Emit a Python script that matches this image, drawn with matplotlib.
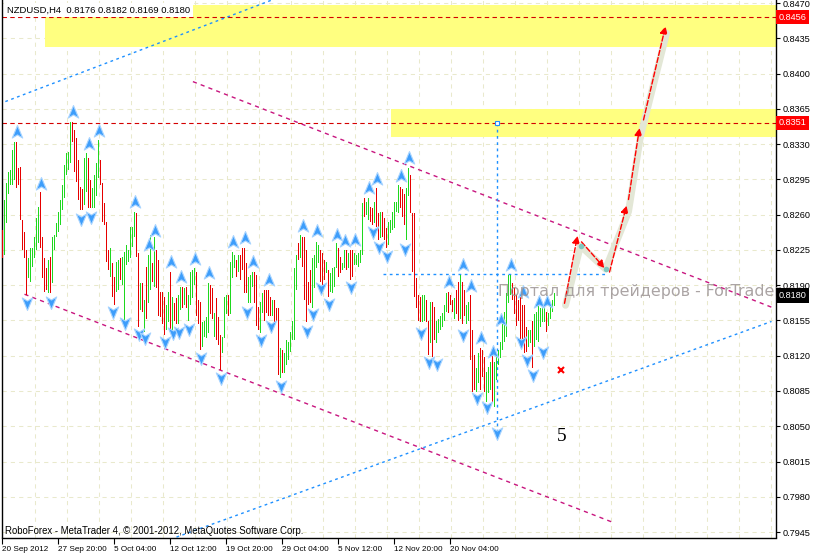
import numpy as np
import matplotlib.pyplot as plt
from matplotlib.path import Path
import matplotlib.transforms as mtransforms

# NZDUSD H4 bars (high, low, up=1 / down=0)
high = [0.8245,0.8275,0.8291,0.8302,0.8304,0.8324,0.8332,0.8332,0.8306,0.8307,
        0.8255,0.8243,0.8225,0.8217,0.8227,0.8227,0.8238,0.8257,0.8268,0.8282,
        0.8238,0.8217,0.8207,0.8215,0.8218,0.8238,0.8240,0.8252,0.8263,0.8275,
        0.8289,0.8309,0.8321,0.8322,0.8352,0.8352,0.8344,0.8336,0.8314,0.8287,
        0.8285,0.8316,0.8321,0.8316,0.8294,0.8286,0.8299,0.8311,0.8334,0.8314,
        0.8291,0.8272,0.8253,0.8225,0.8227,0.8212,
        0.8198,0.8213,0.8215,0.8217,0.8218,0.8223,0.8230,0.8225,0.8248,0.8248,
        0.8263,0.8262,0.8222,0.8192,0.8192,0.8175,0.8208,0.8220,0.8240,0.8212,
        0.8238,0.8225,0.8215,0.8183,0.8183,0.8178,0.8170,0.8183,0.8203,0.8178,
        0.8172,0.8177,0.8180,0.8188,0.8188,0.8187,0.8188,0.8180,0.8203,0.8205,
        0.8207,0.8203,0.8175,0.8173,0.8153,0.8154,0.8158,0.8192,0.8190,0.8187,
        0.8162,0.8177,0.8158,0.8141,0.8139,
        0.8178,0.8180,0.8180,0.8213,0.8223,0.8220,0.8215,0.8220,0.8220,0.8227,
        0.8227,0.8212,0.8198,0.8200,0.8203,0.8203,0.8200,0.8168,0.8173,0.8182,
        0.8185,0.8185,0.8185,0.8178,0.8175,0.8175,0.8167,0.8167,0.8128,0.8126,
        0.8123,0.8136,0.8134,0.8144,0.8154,0.8207,0.8220,0.8232,0.8240,0.8238,
        0.8238,0.8225,0.8193,0.8205,0.8217,0.8220,0.8233,0.8230,0.8225,0.8222,
        0.8215,0.8213,0.8205,0.8202,0.8207,
        0.8208,0.8232,0.8227,0.8218,0.8212,0.8225,0.8225,0.8222,0.8225,0.8225,
        0.8222,0.8220,0.8222,0.8225,0.8272,0.8277,0.8273,0.8277,0.8268,0.8267,
        0.8273,0.8286,0.8262,0.8263,0.8263,0.8257,0.8247,0.8253,0.8255,0.8263,
        0.8273,0.8273,0.8289,0.8287,0.8285,0.8280,0.8286,0.8306,0.8299,0.8262,
        0.8262,0.8197,0.8180,0.8178,0.8180,0.8180,0.8175,0.8154,0.8173,0.8173,
        0.8168,0.8154,0.8156,0.8159,0.8162,
        0.8170,0.8182,0.8183,0.8180,0.8175,0.8177,0.8185,0.8193,0.8200,0.8193,
        0.8185,0.8170,0.8173,0.8180,0.8146,0.8121,0.8108,0.8123,0.8128,0.8126,
        0.8119,0.8104,0.8109,0.8114,0.8121,0.8114,0.8121,0.8126,0.8134,0.8151,
        0.8163,0.8182,0.8200,0.8200,0.8192,0.8187,0.8180,0.8175,0.8178,0.8170,
        0.8170,0.8148,0.8146,0.8146,0.8154,0.8161,0.8163,0.8170,0.8167,0.8170,
        0.8173,0.8163,0.8162,0.8170,0.8175,0.8182]
low = [0.8217,0.8220,0.8252,0.8280,0.8289,0.8289,0.8294,0.8286,0.8289,0.8255,
       0.8225,0.8217,0.8180,0.8197,0.8193,0.8208,0.8217,0.8225,0.8232,0.8227,
       0.8197,0.8183,0.8185,0.8182,0.8182,0.8192,0.8225,0.8238,0.8243,0.8250,
       0.8265,0.8277,0.8299,0.8304,0.8311,0.8332,0.8302,0.8292,0.8275,0.8265,
       0.8265,0.8270,0.8282,0.8267,0.8267,0.8267,0.8267,0.8278,0.8296,0.8289,
       0.8253,0.8250,0.8213,0.8205,0.8198,0.8178,
       0.8170,0.8183,0.8185,0.8195,0.8190,0.8154,0.8210,0.8213,0.8217,0.8228,
       0.8238,0.8218,0.8148,0.8165,0.8163,0.8144,0.8156,0.8172,0.8185,0.8193,
       0.8188,0.8187,0.8159,0.8158,0.8151,0.8141,0.8146,0.8153,0.8144,0.8143,
       0.8154,0.8151,0.8151,0.8165,0.8167,0.8170,0.8167,0.8154,0.8170,0.8177,
       0.8190,0.8159,0.8151,0.8126,0.8129,0.8139,0.8138,0.8143,0.8161,0.8156,
       0.8139,0.8136,0.8131,0.8106,0.8123,
       0.8138,0.8161,0.8159,0.8161,0.8197,0.8207,0.8198,0.8203,0.8195,0.8205,
       0.8182,0.8182,0.8172,0.8172,0.8188,0.8172,0.8149,0.8146,0.8143,0.8162,
       0.8154,0.8162,0.8159,0.8159,0.8159,0.8153,0.8153,0.8101,0.8098,0.8103,
       0.8103,0.8111,0.8116,0.8124,0.8136,0.8136,0.8185,0.8215,0.8217,0.8208,
       0.8175,0.8153,0.8170,0.8172,0.8167,0.8187,0.8207,0.8212,0.8193,0.8183,
       0.8195,0.8202,0.8178,0.8183,0.8182,
       0.8188,0.8207,0.8198,0.8202,0.8205,0.8207,0.8205,0.8207,0.8195,0.8198,
       0.8210,0.8210,0.8208,0.8212,0.8220,0.8258,0.8260,0.8255,0.8253,0.8250,
       0.8252,0.8248,0.8235,0.8237,0.8238,0.8235,0.8227,0.8230,0.8242,0.8245,
       0.8247,0.8263,0.8262,0.8267,0.8258,0.8250,0.8235,0.8278,0.8262,0.8203,
       0.8178,0.8167,0.8154,0.8153,0.8153,0.8154,0.8153,0.8121,0.8133,0.8119,
       0.8136,0.8133,0.8143,0.8146,0.8148,
       0.8154,0.8163,0.8162,0.8170,0.8163,0.8156,0.8161,0.8154,0.8156,0.8151,
       0.8159,0.8151,0.8154,0.8116,0.8084,0.8086,0.8084,0.8093,0.8086,0.8099,
       0.8084,0.8074,0.8083,0.8086,0.8073,0.8069,0.8096,0.8111,0.8118,0.8126,
       0.8134,0.8139,0.8172,0.8180,0.8175,0.8161,0.8149,0.8154,0.8134,0.8129,
       0.8123,0.8124,0.8129,0.8133,0.8108,0.8129,0.8136,0.8134,0.8148,0.8153,
       0.8153,0.8144,0.8149,0.8156,0.8163,0.8169]
up = [0,1,1,1,1,1,1,0,0,0, 0,0,0,1,1,1,1,1,1,0, 0,0,0,1,0,1,1,1,1,1,
      1,1,1,1,1,0,0,0,0,0, 0,1,1,0,0,1,1,1,1,0, 0,0,0,0,1,0,
      0,1,1,0,1,1,1,1,1,1, 1,0,0,1,0,1,0,1,1,0, 1,0,0,0,0,0,1,1,0,1,
      0,0,1,1,0,1,0,1,1,1, 1,0,0,0,1,1,1,1,0,0, 1,0,0,0,1,
      1,1,0,1,1,1,0,1,0,0, 0,0,1,1,1,0,0,0,1,1, 0,0,0,0,1,0,0,0,1,0,
      1,1,1,1,1,1,1,0,1,0, 0,0,0,0,1,1,1,1,0,0, 0,1,0,1,1,
      1,1,0,0,1,1,0,1,0,0, 1,1,1,1,1,0,1,1,0,0, 1,0,0,1,0,0,0,1,1,1,
      1,1,1,0,0,0,1,1,0,0, 0,0,0,0,1,1,0,0,1,0, 0,1,1,1,1,
      1,1,0,0,0,1,0,0,1,0, 0,1,1,0,0,0,1,1,0,0, 0,1,1,1,0,1,1,1,1,1,
      1,1,1,1,0,0,0,0,0,0, 0,0,1,1,0,1,1,1,1,1, 1,0,1,1,1,1]

# fractal arrows (bar index, price)
frac_up_bar = [7,19,35,43,48,66,73,76,84,89,96,103,115,121,125,133,150,157,167,171,
               176,183,187,199,203,223,230,234,239,245,249,254,260,268,272]
frac_up_px = [0.8342,0.8290,0.8362,0.8330,0.8343,0.8273,0.8230,0.8244,0.8213,0.8198,
              0.8216,0.8202,0.8233,0.8237,0.8213,0.8195,0.8249,0.8244,0.8240,0.8234,
              0.8235,0.8286,0.8295,0.8298,0.8316,0.8193,0.8210,0.8189,0.8138,0.8124,
              0.8155,0.8210,0.8183,0.8173,0.8173]
frac_dn_bar = [12,24,39,44,55,61,68,71,81,85,88,93,99,109,122,129,134,139,152,155,
               159,163,174,185,188,192,201,209,213,217,230,237,242,247,259,262,265,270]
frac_dn_px = [0.8172,0.8173,0.8256,0.8258,0.8163,0.8152,0.8142,0.8138,0.8134,0.8143,
              0.8144,0.8147,0.8118,0.8098,0.8163,0.8136,0.8149,0.8090,0.8145,0.8161,
              0.8187,0.8171,0.8188,0.8243,0.8228,0.8219,0.8226,0.8143,0.8114,0.8112,
              0.8141,0.8078,0.8069,0.8043,0.8134,0.8116,0.8101,0.8124]

price_ticks = [0.7945 + 0.0035 * k for k in range(16)]
time_labels = ["20 Sep 2012", "27 Sep 20:00", "5 Oct 04:00", "12 Oct 12:00", "19 Oct 20:00",
               "29 Oct 04:00", "5 Nov 12:00", "12 Nov 20:00", "20 Nov 04:00"]
time_bars = [0, 28, 56, 84, 112, 140, 168, 196, 224]

# forecast path
fc_x0 = [281.0, 289.5, 303.5, 313.0, 320.5]
fc_y0 = [0.8172, 0.8233, 0.8203, 0.8275, 0.8354]
fc_x1 = [287.5, 301.0, 312.0, 318.5, 331.5]
fc_y1 = [0.8239, 0.8207, 0.8269, 0.8346, 0.8447]
band_x = [281.5, 289.0, 301.5, 313.0, 319.0, 332.0]
band_y = [0.8170, 0.8229, 0.8206, 0.8263, 0.8338, 0.8440]

FONT = "Liberation Sans"

fig = plt.figure(figsize=(8.14, 5.56), dpi=100)
ax = fig.add_axes([1.5 / 814, 18.5 / 556, 774 / 814, 537.5 / 556])
ax.set_xlim(-0.5, 386.5)
ax.set_ylim(0.79396, 0.84730)

# grid
for p in price_ticks:
    ax.axhline(p, color="#e9e9cc", lw=0.75, ls=(0, (4, 4)), zorder=0)
for g in range(16, 387, 16):
    ax.axvline(g, color="#e9e9cc", lw=0.75, ls=(0, (4, 4)), zorder=0)

# yellow zones
ax.axhspan(0.8426, 0.8468, xmin=(21 + 0.5) / 387, xmax=1, color="#ffff80", lw=0, zorder=1)
ax.axhspan(0.8337, 0.8365, xmin=(194 + 0.5) / 387, xmax=1, color="#ffff80", lw=0, zorder=1)

# red levels
for lvl in (0.8456, 0.8351):
    ax.axhline(lvl, color="#d40000", lw=0.8, ls=(0, (4, 3)), zorder=2)

# channel lines
mag = "#c8157f"
ax.plot([95.2, 386.0], [0.8392, 0.8167], color=mag, lw=1.0, ls=(0, (3, 3)), zorder=2)
ax.plot([11.0, 306.0], [0.8181, 0.7954], color=mag, lw=1.0, ls=(0, (3, 3)), zorder=2)
blue = "#1e90ff"
ax.plot([87.0, 384.5], [0.7940, 0.8154], color=blue, lw=1.0, ls=(0, (2, 2.5)), zorder=2)
ax.plot([-1.5, 140.0], [0.8370, 0.8477], color=blue, lw=1.0, ls=(0, (2, 2.5)), zorder=2)
ax.plot([190.0, 302.5], [0.8201, 0.8201], color=blue, lw=1.0, ls=(0, (2, 2.5)), zorder=2)
ax.plot([247.3, 247.3], [0.8351, 0.8043], color=blue, lw=1.0, ls=(0, (2, 2.5)), zorder=2)
ax.plot([247.3], [0.8351], marker="s", ms=3, mfc="white", mec=blue, mew=0.8, zorder=3)

# bars as 1px columns
x = np.arange(len(high))
cols = ["#1ed81e" if u else "#e60000" for u in up]
ax.bar(x, np.array(high) - np.array(low), bottom=low, width=0.5, color=cols,
       linewidth=0, zorder=3)

# fractals
up_mark = Path([(0, 1), (0.75, -0.8), (0, -0.35), (-0.75, -0.8), (0, 1)],
               [Path.MOVETO, Path.LINETO, Path.LINETO, Path.LINETO, Path.CLOSEPOLY])
dn_mark = Path([(0, -1), (0.75, 0.8), (0, 0.35), (-0.75, 0.8), (0, -1)],
               [Path.MOVETO, Path.LINETO, Path.LINETO, Path.LINETO, Path.CLOSEPOLY])
ax.plot(frac_up_bar, frac_up_px, ls="none", marker=up_mark, ms=10, mfc="#3d9dfb",
        mec="#a8d4ff", mew=0.8, zorder=4)
ax.plot(frac_dn_bar, frac_dn_px, ls="none", marker=dn_mark, ms=10, mfc="#3d9dfb",
        mec="#a8d4ff", mew=0.8, zorder=4)

# forecast
ax.plot(band_x, band_y, color="#e3e7d6", lw=5, solid_capstyle="round",
        solid_joinstyle="round", zorder=4)
for a, b, c, d in zip(fc_x0, fc_y0, fc_x1, fc_y1):
    ax.annotate("", xy=(c, d), xytext=(a, b),
                arrowprops=dict(arrowstyle="-|>", color="red", lw=1.0, ls="--",
                                mutation_scale=11, shrinkA=0, shrinkB=0), zorder=5)
ax.plot([289.0, 301.5], [0.8229, 0.8206], ls="none", marker="o", ms=4,
        mfc="#7fc8c0", mec="none", zorder=5)

ax.plot([279], [0.8106], marker="x", ms=4, mew=1.5, color="red", zorder=5)
ax.text(279.5, 0.80395, "5", family="Liberation Serif", fontsize=14, ha="center",
        va="center", zorder=5)

ax.text(247.5, 0.8179, "Портал для трейдеров - ForTrader.ru", family="DejaVu Sans",
        fontsize=11.4, color="#9c9494", alpha=0.85, va="baseline", ha="left",
        clip_on=False, zorder=6)

# axes styling
for s in ("left", "right", "bottom"):
    ax.spines[s].set_color("black")
    ax.spines[s].set_linewidth(1.0)
ax.spines["top"].set_visible(False)
ax.yaxis.tick_right()
ax.set_yticks(price_ticks)
ax.set_yticklabels(["%.4f" % p for p in price_ticks])
ax.tick_params(axis="y", length=3, width=0.8, pad=2, labelsize=6.6)
ax.set_xticks([b - 0.5 for b in time_bars])
ax.set_xticklabels(time_labels)
ax.tick_params(axis="x", length=4, width=0.8, pad=2, labelsize=5.9)
for t in ax.get_xticklabels():
    t.set_ha("left")
    t.set_family(FONT)
for t in ax.get_yticklabels():
    t.set_family(FONT)

trans = mtransforms.blended_transform_factory(ax.transAxes, ax.transData)
for lvl, bg in ((0.8456, "#ff0000"), (0.8351, "#ff0000"), (0.8180, "black")):
    ax.text(1.0 + 3 / 774, lvl, "%.4f" % lvl, transform=trans, color="white",
            fontsize=6.6, family=FONT, va="center", ha="left", clip_on=False, zorder=7,
            bbox=dict(boxstyle="square,pad=0.3", fc=bg, ec="none"))

fig.text(7 / 814, 1 - 10 / 556, "NZDUSD,H4  0.8176 0.8182 0.8169 0.8180", fontsize=6.8,
         family=FONT, va="center", ha="left",
         bbox=dict(boxstyle="square,pad=0.3", fc="white", ec="none"))
fig.text(5 / 814, 1 - 531 / 556,
         "RoboForex - MetaTrader 4, \u00a9 2001-2012, MetaQuotes Software Corp.",
         fontsize=6.95, family=FONT, va="center", ha="left")

fig.savefig("out.png", dpi=100)
